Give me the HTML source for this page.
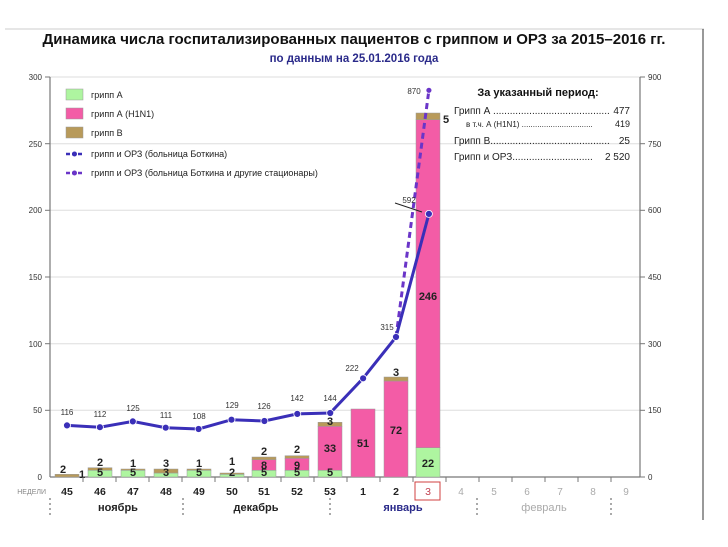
<!DOCTYPE html>
<html><head><meta charset="utf-8"><style>
body{margin:0;background:#fff}
svg{display:block;font-family:"Liberation Sans","DejaVu Sans",sans-serif}
.n{font-size:11px;font-weight:bold;fill:#222;text-anchor:middle}
.t{font-size:8px;fill:#333}
</style></head><body>
<svg width="728" height="547" viewBox="0 0 728 547">
<rect width="728" height="547" fill="#fff"/>
<line x1="5" y1="29" x2="704" y2="29" stroke="#ccc" stroke-width="1"/>
<line x1="703" y1="29" x2="703" y2="520" stroke="#333" stroke-width="1"/>
<text x="354" y="44" font-size="15" font-weight="bold" text-anchor="middle" fill="#111">Динамика числа госпитализированных пациентов с гриппом и ОРЗ за 2015–2016 гг.</text>
<text x="354" y="62" font-size="11.5" font-weight="bold" text-anchor="middle" fill="#2a2a8a">по данным на 25.01.2016 года</text>
<!-- grid -->
<g stroke="#ddd" stroke-width="1">
<line x1="50" y1="77" x2="640" y2="77"/><line x1="50" y1="143.7" x2="640" y2="143.7"/>
<line x1="50" y1="210.3" x2="640" y2="210.3"/><line x1="50" y1="277" x2="640" y2="277"/>
<line x1="50" y1="343.7" x2="640" y2="343.7"/><line x1="50" y1="410.3" x2="640" y2="410.3"/>
</g>
<g stroke="#777" stroke-width="1.2">
<line x1="50" y1="77" x2="50" y2="477"/><line x1="640" y1="77" x2="640" y2="477"/>
<line x1="50" y1="477" x2="640" y2="477"/>
</g>
<g class="t" text-anchor="end">
<text x="42" y="80">300</text><text x="42" y="147">250</text><text x="42" y="213">200</text><text x="42" y="280">150</text><text x="42" y="347">100</text><text x="42" y="413">50</text><text x="42" y="480">0</text>
</g>
<g class="t">
<text x="648" y="80">900</text><text x="648" y="147">750</text><text x="648" y="213">600</text><text x="648" y="280">450</text><text x="648" y="347">300</text><text x="648" y="413">150</text><text x="648" y="480">0</text>
</g>
<g stroke="#777"><line x1="45" y1="77" x2="50" y2="77"/><line x1="640" y1="77" x2="645" y2="77"/><line x1="45" y1="143.7" x2="50" y2="143.7"/><line x1="640" y1="143.7" x2="645" y2="143.7"/><line x1="45" y1="210.3" x2="50" y2="210.3"/><line x1="640" y1="210.3" x2="645" y2="210.3"/><line x1="45" y1="277" x2="50" y2="277"/><line x1="640" y1="277" x2="645" y2="277"/><line x1="45" y1="343.7" x2="50" y2="343.7"/><line x1="640" y1="343.7" x2="645" y2="343.7"/><line x1="45" y1="410.3" x2="50" y2="410.3"/><line x1="640" y1="410.3" x2="645" y2="410.3"/><line x1="640" y1="477" x2="645" y2="477"/></g>
<!-- bars -->
<g stroke="#999" stroke-width="0.5">
<rect x="55" y="474.3" width="24" height="2.7" fill="#b89a5a"/>
<rect x="88" y="470.3" width="24" height="6.7" fill="#aef5a0"/><rect x="88" y="467.7" width="24" height="2.6" fill="#b89a5a"/>
<rect x="121" y="470.3" width="24" height="6.7" fill="#aef5a0"/><rect x="121" y="469" width="24" height="1.3" fill="#b89a5a"/>
<rect x="154" y="473" width="24" height="4" fill="#aef5a0"/><rect x="154" y="469" width="24" height="4" fill="#b89a5a"/>
<rect x="187" y="470.3" width="24" height="6.7" fill="#aef5a0"/><rect x="187" y="469" width="24" height="1.3" fill="#b89a5a"/>
<rect x="220" y="474.3" width="24" height="2.7" fill="#aef5a0"/><rect x="220" y="473" width="24" height="1.3" fill="#b89a5a"/>
<rect x="252" y="470.3" width="24" height="6.7" fill="#aef5a0"/><rect x="252" y="459.7" width="24" height="10.6" fill="#f35ca6"/><rect x="252" y="457" width="24" height="2.7" fill="#b89a5a"/>
<rect x="285" y="470.3" width="24" height="6.7" fill="#aef5a0"/><rect x="285" y="458.3" width="24" height="12" fill="#f35ca6"/><rect x="285" y="455.7" width="24" height="2.6" fill="#b89a5a"/>
<rect x="318" y="470.3" width="24" height="6.7" fill="#aef5a0"/><rect x="318" y="426.3" width="24" height="44" fill="#f35ca6"/><rect x="318" y="422.3" width="24" height="4" fill="#b89a5a"/>
<rect x="351" y="409" width="24" height="68" fill="#f35ca6"/>
<rect x="384" y="381" width="24" height="96" fill="#f35ca6"/><rect x="384" y="377" width="24" height="4" fill="#b89a5a"/>
<rect x="416" y="447.7" width="24" height="29.3" fill="#aef5a0"/><rect x="416" y="119.7" width="24" height="328" fill="#f35ca6"/><rect x="416" y="113" width="24" height="6.7" fill="#b89a5a"/>
</g>
<g class="n">
<text x="63" y="473">2</text><text x="82" y="478">1</text>
<text x="100" y="476">5</text><text x="100" y="466">2</text>
<text x="133" y="476">5</text><text x="133" y="467">1</text>
<text x="166" y="476">3</text><text x="166" y="467">3</text>
<text x="199" y="476">5</text><text x="199" y="467">1</text>
<text x="232" y="476">2</text><text x="232" y="465">1</text>
<text x="264" y="476">5</text><text x="264" y="469">8</text><text x="264" y="455">2</text>
<text x="297" y="476">5</text><text x="297" y="469">9</text><text x="297" y="453">2</text>
<text x="330" y="476">5</text><text x="330" y="452">33</text><text x="330" y="425">3</text>
<text x="363" y="447">51</text>
<text x="396" y="434">72</text><text x="396" y="376">3</text>
<text x="428" y="467">22</text><text x="428" y="300">246</text><text x="446" y="123">5</text>
</g>
<!-- lines -->
<polyline points="396,337 428.9,90.3" fill="none" stroke="#6a35c8" stroke-width="3" stroke-dasharray="6,4"/>
<polyline points="67,425.4 99.9,427.2 132.8,421.4 165.7,427.7 198.6,429 231.5,419.7 264.4,421 297.3,413.9 330.2,413 363.1,378.3 396,337 428.9,213.9" fill="none" stroke="#3a2fb8" stroke-width="3"/>
<g fill="#3a2fb8" stroke="#fff" stroke-width="0.8">
<circle cx="67" cy="425.4" r="3.5"/><circle cx="99.9" cy="427.2" r="3.5"/><circle cx="132.8" cy="421.4" r="3.5"/><circle cx="165.7" cy="427.7" r="3.5"/><circle cx="198.6" cy="429" r="3.5"/><circle cx="231.5" cy="419.7" r="3.5"/><circle cx="264.4" cy="421" r="3.5"/><circle cx="297.3" cy="413.9" r="3.5"/><circle cx="330.2" cy="413" r="3.5"/><circle cx="363.1" cy="378.3" r="3.5"/><circle cx="396" cy="337" r="3.5"/><circle cx="428.9" cy="213.9" r="3.5"/>
<circle cx="428.9" cy="90.3" r="3" fill="#6a35c8"/>
</g>
<g class="t" text-anchor="middle" font-size="9">
<text x="67" y="415">116</text><text x="100" y="417">112</text><text x="133" y="411">125</text><text x="166" y="418">111</text><text x="199" y="419">108</text><text x="232" y="408">129</text><text x="264" y="409">126</text><text x="297" y="401">142</text><text x="330" y="401">144</text><text x="352" y="371">222</text><text x="387" y="330">315</text><text x="409" y="203">592</text><text x="414" y="94">870</text>
</g>
<line x1="395" y1="203" x2="422" y2="212" stroke="#222" stroke-width="1"/>
<!-- x axis -->
<g stroke="#777"><line x1="83" y1="477" x2="83" y2="482"/><line x1="116" y1="477" x2="116" y2="482"/><line x1="149" y1="477" x2="149" y2="482"/><line x1="182" y1="477" x2="182" y2="482"/><line x1="215" y1="477" x2="215" y2="482"/><line x1="248" y1="477" x2="248" y2="482"/><line x1="281" y1="477" x2="281" y2="482"/><line x1="314" y1="477" x2="314" y2="482"/><line x1="347" y1="477" x2="347" y2="482"/><line x1="380" y1="477" x2="380" y2="482"/><line x1="413" y1="477" x2="413" y2="482"/><line x1="446" y1="477" x2="446" y2="482"/><line x1="479" y1="477" x2="479" y2="482"/><line x1="512" y1="477" x2="512" y2="482"/><line x1="545" y1="477" x2="545" y2="482"/><line x1="578" y1="477" x2="578" y2="482"/><line x1="611" y1="477" x2="611" y2="482"/></g>
<text x="46" y="494" font-size="7" fill="#888" text-anchor="end">НЕДЕЛИ</text>
<g font-size="10.5" font-weight="bold" fill="#222" text-anchor="middle">
<text x="67" y="495">45</text><text x="100" y="495">46</text><text x="133" y="495">47</text><text x="166" y="495">48</text><text x="199" y="495">49</text><text x="232" y="495">50</text><text x="264" y="495">51</text><text x="297" y="495">52</text><text x="330" y="495">53</text><text x="363" y="495">1</text><text x="396" y="495">2</text>
</g>
<rect x="415" y="482" width="25" height="18" fill="none" stroke="#d04040" stroke-width="1"/>
<text x="428" y="495" font-size="10.5" fill="#c04050" text-anchor="middle">3</text>
<g font-size="10" fill="#aaa" text-anchor="middle"><text x="461" y="495">4</text><text x="494" y="495">5</text><text x="527" y="495">6</text><text x="560" y="495">7</text><text x="593" y="495">8</text><text x="626" y="495">9</text></g>
<g stroke="#555" stroke-dasharray="2,3"><line x1="50" y1="498" x2="50" y2="516"/><line x1="183" y1="498" x2="183" y2="516"/><line x1="330" y1="498" x2="330" y2="516"/><line x1="477" y1="498" x2="477" y2="516"/><line x1="611" y1="498" x2="611" y2="516"/></g>
<text x="118" y="511" font-size="11" font-weight="bold" fill="#222" text-anchor="middle">ноябрь</text>
<text x="256" y="511" font-size="11" font-weight="bold" fill="#222" text-anchor="middle">декабрь</text>
<text x="403" y="511" font-size="11" font-weight="bold" fill="#2a2a8a" text-anchor="middle">январь</text>
<text x="544" y="511" font-size="11" fill="#aaa" text-anchor="middle">февраль</text>
<!-- legend -->
<rect x="66" y="89" width="17" height="11" fill="#aef5a0" stroke="#999" stroke-width="0.5"/>
<rect x="66" y="108" width="17" height="11" fill="#f35ca6" stroke="#999" stroke-width="0.5"/>
<rect x="66" y="127" width="17" height="11" fill="#b89a5a" stroke="#999" stroke-width="0.5"/>
<line x1="66" y1="154" x2="83" y2="154" stroke="#3a2fb8" stroke-width="2.5" stroke-dasharray="4,2"/><circle cx="74.5" cy="154" r="2.5" fill="#3a2fb8"/>
<line x1="66" y1="173" x2="83" y2="173" stroke="#6a35c8" stroke-width="2.5" stroke-dasharray="4,2"/><circle cx="74.5" cy="173" r="2.5" fill="#6a35c8"/>
<g font-size="9" fill="#222">
<text x="91" y="98">грипп А</text><text x="91" y="117">грипп А (H1N1)</text><text x="91" y="136">грипп В</text>
<text x="91" y="157">грипп и ОРЗ (больница Боткина)</text><text x="91" y="176">грипп и ОРЗ (больница Боткина и другие стационары)</text>
</g>
<!-- info -->
<text x="538" y="96" font-size="11" font-weight="bold" fill="#111" text-anchor="middle">За указанный период:</text>
<g font-size="10" fill="#222">
<text x="454" y="114">Грипп А ..........................................</text><text x="630" y="114" text-anchor="end">477</text>
<text x="466" y="127" font-size="8">в т.ч. А (H1N1) ................................</text><text x="630" y="127" text-anchor="end" font-size="9">419</text>
<text x="454" y="144">Грипп В...........................................</text><text x="630" y="144" text-anchor="end">25</text>
<text x="454" y="160">Грипп и ОРЗ.............................</text><text x="630" y="160" text-anchor="end">2 520</text>
</g>
</svg>
</body></html>
